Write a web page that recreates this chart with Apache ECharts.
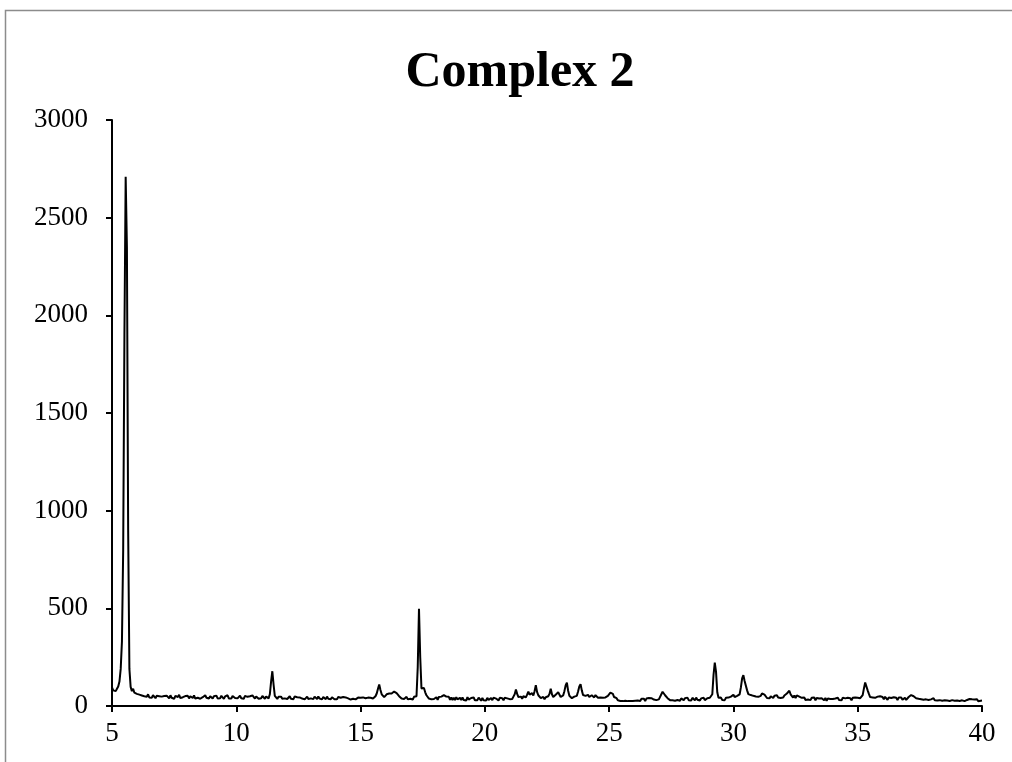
<!DOCTYPE html>
<html>
<head>
<meta charset="utf-8">
<script src="https://cdn.jsdelivr.net/npm/echarts@6/dist/echarts.min.js"></script>
<style>html,body{margin:0;padding:0;background:#fff}#c{width:1012px;height:762px}</style>
</head>
<body>
<div id="c"></div>
<script>
// 2-theta sampling: start angle and step (degrees)
const thetaStart = 5.0;
const thetaStep = 0.05;
// intensity values, one row per degree (20 samples each)
const counts = [
  95,80,84,76,88,100,125,190,330,800,1900,2710,2350,900,190,98,76,88,68,76,         // 5
  62,70,58,66,54,62,50,58,47,60,44,54,42,55,46,40,52,43,50,40,                      // 6
  48,40,51,42,53,43,39,55,42,49,37,52,44,46,57,40,50,45,38,51,                      // 7
  43,52,39,50,45,41,54,38,48,42,51,37,47,45,39,55,42,47,38,50,                      // 8
  45,38,50,42,53,39,47,40,52,44,37,49,42,55,39,48,38,51,43,41,                      // 9
  50,39,46,53,40,48,37,52,43,47,38,50,41,54,45,38,49,42,37,47,                      // 10
  40,51,42,37,49,45,39,60,125,178,110,52,46,36,47,38,48,37,45,39,                   // 11
  48,36,44,50,37,46,35,49,40,45,36,44,51,38,47,34,42,48,36,44,                      // 12
  39,47,35,48,41,36,49,38,45,34,46,39,35,48,37,43,34,45,40,35,                      // 13
  44,34,46,37,42,33,46,36,44,35,39,47,33,43,37,45,34,41,43,34,                      // 14
  42,33,44,35,40,32,43,35,42,36,38,45,50,64,88,110,82,60,50,45,                     // 15
  54,60,53,64,72,64,58,74,76,66,58,50,45,38,47,36,44,47,34,43,                      // 16
  37,46,33,47,40,50,200,498,250,90,80,92,70,55,46,38,46,34,44,36,                   // 17
  33,45,31,46,37,48,50,56,56,48,40,47,32,44,31,42,30,45,34,29,                      // 18
  42,30,44,31,40,28,45,33,27,41,31,44,29,39,30,43,33,27,41,30,                      // 19
  39,28,42,31,27,41,30,43,48,38,31,28,42,32,40,29,42,33,39,44,                      // 20
  35,45,36,48,60,84,62,46,38,48,37,50,52,44,58,74,58,64,66,54,                      // 21
  76,106,72,55,46,40,35,47,34,45,38,50,62,88,60,46,55,58,52,70,                     // 22
  60,46,41,54,76,105,120,78,52,46,40,35,48,39,52,74,100,112,80,56,                  // 23
  47,52,44,57,46,41,55,50,44,56,52,42,36,44,34,42,32,44,40,52,                      // 24
  58,68,76,62,46,36,40,29,36,26,33,25,34,27,36,25,34,26,35,26,                      // 25
  35,27,37,28,34,26,37,29,37,25,38,28,41,31,40,44,33,42,30,40,                      // 26
  34,44,60,73,66,55,46,40,35,30,38,29,36,27,37,31,38,27,39,32,                      // 27
  29,40,30,43,30,39,28,42,33,29,43,32,40,28,39,31,42,30,36,40,                      // 28
  31,42,35,60,160,222,175,70,42,33,43,31,40,30,42,33,43,34,48,54,                   // 29
  58,46,43,52,46,60,95,142,158,128,118,80,61,69,56,65,52,62,49,52,                  // 30
  47,54,52,64,70,58,48,41,51,39,50,54,41,52,43,55,44,53,41,50,                      // 31
  43,54,52,64,72,78,60,50,43,54,41,54,60,48,39,42,35,44,31,40,                      // 32
  33,40,30,42,34,44,29,41,32,38,28,40,35,29,41,27,38,30,36,29,                      // 33
  36,28,38,30,42,31,40,29,43,33,39,31,42,33,40,29,42,32,44,34,                      // 34
  42,34,40,44,56,90,120,112,80,62,46,39,44,37,42,36,48,52,50,44,                    // 35
  46,35,47,37,32,44,34,41,35,45,36,42,31,43,33,44,32,39,42,31,                      // 36
  36,46,52,56,46,50,47,40,48,37,46,35,44,32,42,34,39,31,41,34,                      // 37
  31,40,29,38,28,37,30,40,27,36,29,38,28,34,26,36,30,38,27,35,                      // 38
  28,37,26,35,29,38,25,34,31,27,36,26,34,25,33,28,35,24,34,27,                      // 39
  28                                                                                // 40
];
const xTicks = [5, 10, 15, 20, 25, 30, 35, 40];
const yTicks = [0, 500, 1000, 1500, 2000, 2500, 3000];
const titleText = 'Complex 2';

const points = counts.map((v, i) => [+(thetaStart + i * thetaStep).toFixed(2), v]);
const serif = '"Liberation Serif", "DejaVu Serif", serif';

const chart = echarts.init(document.getElementById('c'), null, {renderer: 'canvas'});
chart.setOption({
  backgroundColor: '#ffffff',
  animation: false,
  graphic: [{
    type: 'rect', silent: true, z: -10,
    shape: {x: 5.5, y: 10.5, width: 1010, height: 800},
    style: {fill: 'none', stroke: '#8c8c8c', lineWidth: 1.5}
  }],
  title: {
    text: titleText, left: 515, top: 43, textAlign: 'center',
    textStyle: {fontFamily: serif, fontWeight: 'bold', fontSize: 50, color: '#000'}
  },
  grid: {left: 112, top: 120, right: 30, bottom: 56, containLabel: false},
  xAxis: {
    type: 'value', min: xTicks[0], max: xTicks[xTicks.length - 1], interval: 5,
    axisLine: {show: true, lineStyle: {color: '#000', width: 2}},
    axisTick: {show: true, inside: false, length: 6, lineStyle: {color: '#000', width: 2}},
    axisLabel: {margin: 14, fontFamily: serif, fontSize: 27, color: '#000',
      formatter: v => String(v)},
    splitLine: {show: false}
  },
  yAxis: {
    type: 'value', min: yTicks[0], max: yTicks[yTicks.length - 1], interval: 500,
    axisLine: {show: true, lineStyle: {color: '#000', width: 2}},
    axisTick: {show: true, inside: false, length: 6, lineStyle: {color: '#000', width: 2}},
    axisLabel: {margin: 24, fontFamily: serif, fontSize: 27, color: '#000',
      formatter: v => String(v)},
    splitLine: {show: false}
  },
  series: [{
    type: 'line', data: points, showSymbol: false, symbol: 'none', sampling: 'none',
    lineStyle: {color: '#000', width: 2}, smooth: false
  }]
});
</script>
</body>
</html>
